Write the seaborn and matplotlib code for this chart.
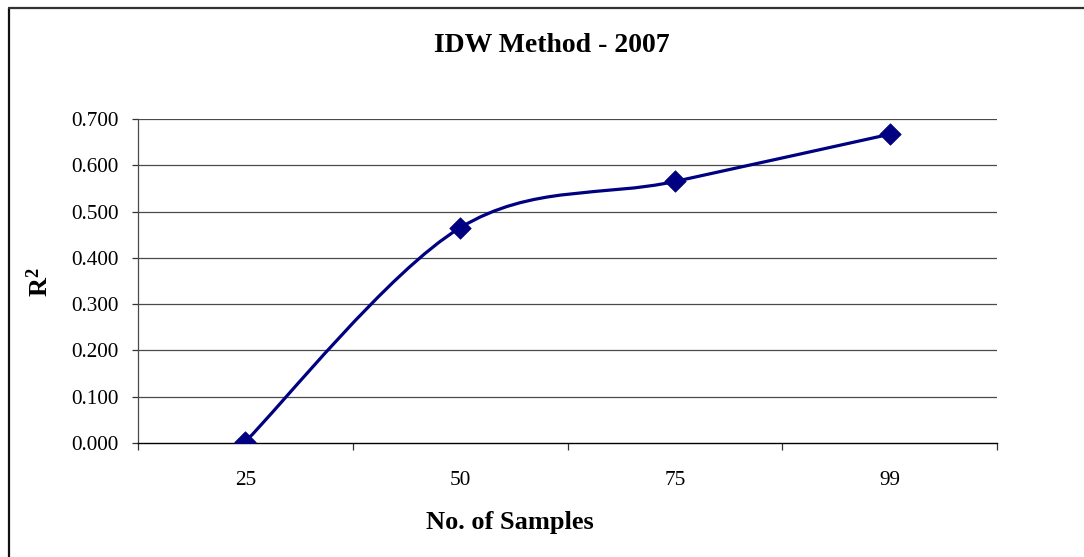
import numpy as np
import pandas as pd
import matplotlib
matplotlib.use("Agg")
import matplotlib.pyplot as plt
from matplotlib.path import Path
from matplotlib.patches import PathPatch
from matplotlib.lines import Line2D
import seaborn as sns

# Coefficient of determination for the IDW interpolation, by sample count
samples = ["25", "50", "75", "99"]
r2 = [0.003, 0.465, 0.565, 0.667]
y_ticks = [0.0, 0.1, 0.2, 0.3, 0.4, 0.5, 0.6, 0.7]

title = "IDW Method - 2007"
x_label = "No. of Samples"

sns.set_theme(style="white")
plt.rcParams["font.family"] = ["Liberation Serif", "DejaVu Serif"]
plt.rcParams["text.color"] = "black"
plt.rcParams["mathtext.fontset"] = "custom"
plt.rcParams["mathtext.rm"] = "Liberation Serif"
plt.rcParams["mathtext.bf"] = "Liberation Serif:bold"

navy = "#000080"
W, H = 1084, 557
fig = plt.figure(figsize=(W / 100, H / 100), dpi=100)
fig.patch.set_facecolor("white")
ax = fig.add_axes([138 / W, 1 - 443 / H, (997 - 138) / W, (443 - 119) / H])
ax.set_facecolor("white")

pos = np.arange(len(samples), dtype=float)
df = pd.DataFrame({"pos": pos, "r2": r2})

# Smoothed connecting line (cubic Bezier segments, Catmull-Rom style)
pts = np.column_stack([pos, r2])
ext = np.vstack([pts[0], pts, pts[-1]])
verts = [tuple(pts[0])]
codes = [Path.MOVETO]
for i in range(len(pts) - 1):
    p_prev, p0, p1, p_next = ext[i], ext[i + 1], ext[i + 2], ext[i + 3]
    c1 = p0 + (p1 - p_prev) / 6.0
    c2 = p1 - (p_next - p0) / 6.0
    verts += [tuple(c1), tuple(c2), tuple(p1)]
    codes += [Path.CURVE4] * 3
ax.add_patch(PathPatch(Path(verts, codes), facecolor="none", edgecolor=navy,
                       lw=2.3, zorder=3, capstyle="round", joinstyle="round"))

sns.scatterplot(data=df, x="pos", y="r2", marker="D", s=120, color=navy,
                edgecolor=navy, linewidth=0.5, zorder=4, ax=ax, legend=False)

# Axes and grid
ax.set_xlim(-0.5, len(samples) - 0.5)
ax.set_ylim(0, 0.7)
ax.set_yticks(y_ticks)
ax.set_yticklabels([f"{v:.3f}" for v in y_ticks])
for v in y_ticks[1:]:
    ax.axhline(v, color="#4a4a4a", lw=0.9, zorder=1)

ax.set_xticks(np.arange(-0.5, len(samples), 1.0))
ax.set_xticklabels([])
ax.set_xticks(pos, minor=True)
ax.set_xticklabels(samples, minor=True)
ax.tick_params(axis="x", which="major", direction="out", length=5, width=0.9,
               color="#333333", bottom=True)
ax.tick_params(axis="x", which="minor", length=0, pad=20.5, labelsize=15.3,
               labelcolor="black", bottom=True)
ax.tick_params(axis="y", direction="out", length=4.5, width=0.9,
               color="#333333", pad=9.5, labelsize=15.3, labelcolor="black",
               left=True)

for side in ["top", "right"]:
    ax.spines[side].set_visible(False)
ax.spines["left"].set_color("#4a4a4a")
ax.spines["left"].set_linewidth(0.9)
ax.spines["bottom"].set_color("black")
ax.spines["bottom"].set_linewidth(1.0)
ax.set_xlabel("")
ax.set_ylabel("")

# Titles
fig.text(552 / W, 1 - 45 / H, title, ha="center", va="center",
         fontsize=20, fontweight="bold", color="black")
fig.text(510 / W, 1 - 522 / H, x_label, ha="center", va="center",
         fontsize=19, fontweight="bold", color="black")
fig.text(40 / W, 1 - 282 / H, r"$\mathbf{R^{2}}$", ha="center", va="center",
         rotation=90, fontsize=19, color="black")

# Chart-area border
fig.add_artist(Line2D([8.5 / W, 8.5 / W], [0, 1 - 7.5 / H], color="#111111",
                      lw=1.6, transform=fig.transFigure))
fig.add_artist(Line2D([8.5 / W, 1], [1 - 7.5 / H, 1 - 7.5 / H], color="#333333",
                      lw=1.6, transform=fig.transFigure))

fig.savefig("out.png", dpi=100)
